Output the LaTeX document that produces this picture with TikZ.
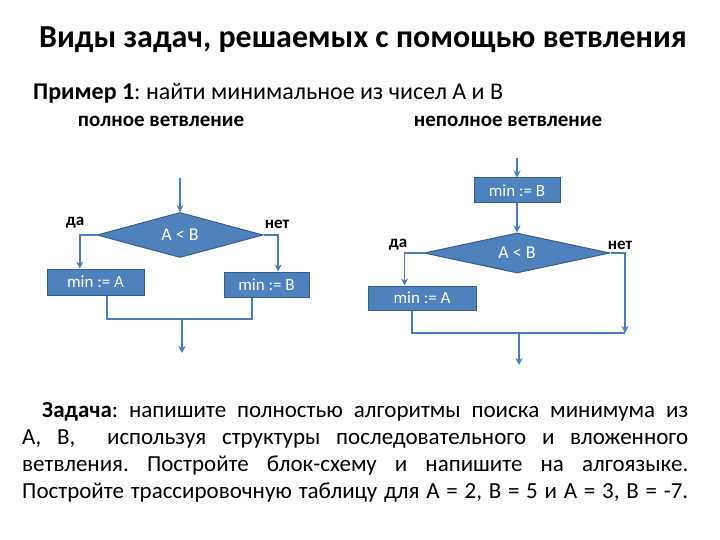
\documentclass[tikz,border=0pt]{standalone}
\usepackage{fontspec}
\setmainfont{Carlito}
\usetikzlibrary{arrows.meta,calc,shapes.geometric}
\frenchspacing

\definecolor{boxblue}{HTML}{4F81BD}
\definecolor{edgeblue}{HTML}{385D8A}
\definecolor{lineblue}{HTML}{4A7EBB}

\begin{document}
\begin{tikzpicture}[x=1pt,y=-1pt,>={Stealth[length=7pt,width=7pt]},
  flow/.style={draw=lineblue,line width=1.8pt},
  act/.style={draw=edgeblue,fill=boxblue,line width=1pt,text=white,inner sep=0pt,
    font=\fontsize{17}{20}\selectfont},
  cond/.style={diamond,aspect=4,draw=edgeblue,fill=boxblue,line width=1pt,text=white,
    inner sep=0pt,font=\fontsize{18}{21}\selectfont},
  lbl/.style={font=\bfseries\fontsize{17}{20}\selectfont},
  line/.style={anchor=base west,inner sep=0pt,font=\fontsize{23}{27}\selectfont}]
  \useasboundingbox[fill=white] (0,0) rectangle (720,540);
  % --- headings ---
  \node[font=\bfseries\fontsize{32}{38}\selectfont] (title) at (363,40)
    {Виды задач, решаемых с помощью ветвления};
  \node[anchor=west,inner sep=0pt,font=\fontsize{24}{28}\selectfont] (example) at (33,93)
    {\textbf{Пример 1}: найти минимальное из чисел А и В};
  \node[font=\bfseries\fontsize{21}{25}\selectfont] (full) at (161,121) {полное ветвление};
  \node[font=\bfseries\fontsize{21}{25}\selectfont] (part) at (508,121) {неполное ветвление};

  % --- full branching ---
  \node[cond,minimum width=166pt,minimum height=45pt] (d1) at (180,235) {A < B};
  \node[act,minimum width=97pt,minimum height=26pt] (a1) at (95.5,282) {min := A};
  \node[act,minimum width=85pt,minimum height=25pt] (b1) at (266.5,284.5) {min := B};
  \node[lbl] (yes1) at (75,223) {да};
  \node[lbl] (no1) at (277,224) {нет};
  \coordinate (in1)  at (180,178);
  \coordinate (j1)   at (182,319);
  \coordinate (out1) at (182,353);
  \draw[flow,->] (in1) -- (d1.north);
  \draw[flow,->] (d1.west) -| ($(a1.north west)!0.34!(a1.north east)$);
  \draw[flow,->] (d1.east) -| ($(b1.north west)!0.635!(b1.north east)$);
  \draw[flow] ($(a1.south west)!0.62!(a1.south east)$) |- (j1) -| ($(b1.south west)!0.33!(b1.south east)$);
  \draw[flow,->] (j1) -- (out1);

  % --- partial branching ---
  \node[act,minimum width=86pt,minimum height=25pt] (b2) at (517,190.5) {min := B};
  \node[cond,minimum width=186pt,minimum height=40pt] (d2) at (517,253) {A < B};
  \node[act,minimum width=108pt,minimum height=24pt] (a2) at (422,298) {min := A};
  \node[lbl] (yes2) at (398,245) {да};
  \node[lbl] (no2) at (620,245) {нет};
  \coordinate (in2)  at (517,158);
  \coordinate (k2)   at (625,333);
  \coordinate (j2)   at (519,333);
  \coordinate (out2) at (519,365);
  \draw[flow,->] (in2) -- (b2.north);
  \draw[flow,->] (b2.south) -- (d2.north);
  \draw[flow,->] (d2.west) -| ($(a2.north west)!0.34!(a2.north east)$);
  \draw[flow,->] (d2.east) -| (k2);
  \draw[flow] ($(a2.south west)!0.41!(a2.south east)$) |- (k2);
  \draw[flow,->] (j2) -- (out2);

  % --- task text ---
  \node[line] (t1) at (42,417)
    {\makebox[646pt][s]{\textbf{Задача}: напишите полностью алгоритмы поиска минимума из}};
  \node[line] (t2) at (22,444)
    {\makebox[666pt][s]{А, В, \ используя структуры последовательного и вложенного}};
  \node[line] (t3) at (22,471)
    {\makebox[666pt][s]{ветвления. Постройте блок-схему и напишите на алгоязыке.}};
  \node[line] (t4) at (22,498)
    {\makebox[666pt][s]{Постройте трассировочную таблицу для А = 2, В = 5 и А = 3, В = -7.}};
\end{tikzpicture}
\end{document}
